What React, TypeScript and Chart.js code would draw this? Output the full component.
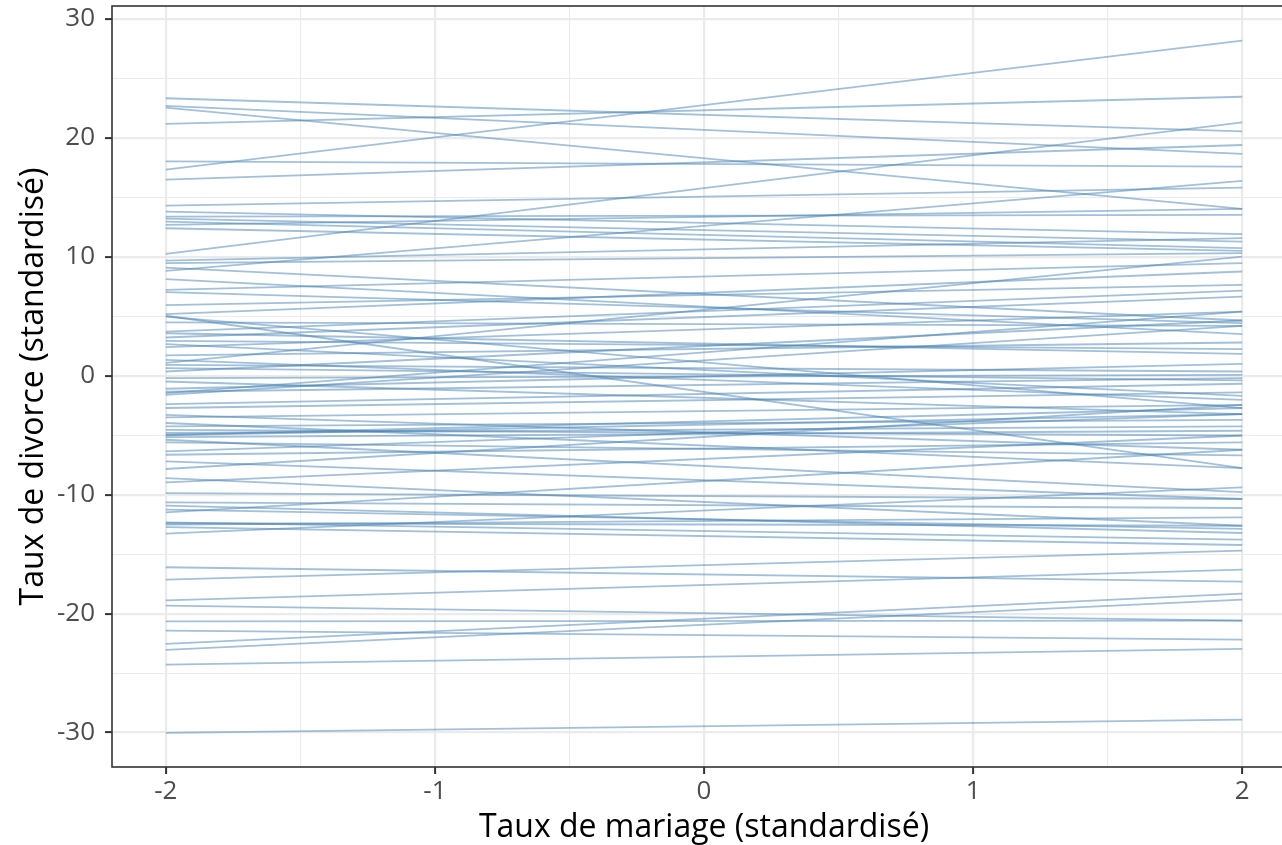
import React, { useEffect, useRef } from 'react';
import { Chart, registerables } from 'chart.js';

Chart.register(...registerables);

// Each simulated regression line is drawn from x = -2 to x = 2
const marriageEnds = [-2, 2];

// Divorce rate (standardised) at marriage rate = -2
const divorceAtLow = [
  23.34, 22.7, 22.56, 21.18, 18.04, 17.34, 16.5,
  14.31, 13.81, 13.39, 13.22, 12.97, 12.69, 12.41, 10.25, 9.69, 9.47, 9.1, 8.82, 8.13, 7.23, 7.03, 5.94, 5.18, 4.98,
  4.5, 3.72, 3.58, 3.22, 2.94, 2.66, 2.41, 1.71, 1.34, 1.09, 0.92, 0.65, 0.36, -0.19, -0.48, -1.09, -1.34, -1.6, -2.38, -2.71,
  -3.28, -3.5, -3.97, -4.26, -4.54, -4.81, -4.96, -5.15, -5.38, -5.6, -6.36, -6.64, -7.2, -7.84, -8.6, -8.97, -9.86,
  -10.65, -10.92, -11.26, -11.49, -12.33, -12.52, -12.72, -13.28,
  -16.1, -17.14, -18.88, -19.33, -20.65, -21.43, -22.55, -23.05, -24.29, -30.03,
  5.05, -1.45, -5.0, -12.4,
];

// Divorce rate (standardised) at marriage rate = 2
const divorceAtHigh = [
  20.56, 18.66, 14.03, 23.47, 17.59, 28.18, 19.41,
  15.82, 11.91, 13.53, 11.29, 10.73, 14.03, 10.5, 21.32, 11.57, 10.31, 4.65, 16.39, 3.5, 9.47, 4.43, 7.65, 8.77, -2.71,
  4.2, 7.17, 1.85, 6.66, 2.24, -1.68, 5.4, 2.8, -2.02, 10.03, 0.36, -0.39, 4.65, 0.08, -3.22, 1.01, -0.19, 4.2, -0.67, -1.4,
  -6.22, -2.44, -7.76, -3.7, -5.02, -4.26, -2.71, -4.62, -9.78, -6.7, -3.22, -5.6, -10.36, -2.44, -12.61, -5.02, -10.36,
  -11.12, -13.22, -12.88, -6.22, -13.78, -11.91, -14.23, -9.39,
  -17.31, -14.71, -16.3, -20.59, -20.59, -22.18, -18.32, -18.82, -22.97, -28.91,
  -7.76, 5.4, -3.22, -12.61,
];

const xMajorTicks = [-2, -1, 0, 1, 2];
const xMinorTicks = [-1.5, -0.5, 0.5, 1.5];
const yMajorTicks = [-30, -20, -10, 0, 10, 20, 30];
const yMinorTicks = [-25, -15, -5, 5, 15, 25];

const LINE_COLOR = 'rgba(70, 130, 180, 0.5)';
const GRID_COLOR = '#EBEBEB';
const INK = '#333333';
const TICK_TEXT = '#4D4D4D';
const FONT = "'Open Sans', 'DejaVu Sans', sans-serif";

const panelBorder = {
  id: 'panelBorder',
  afterDatasetsDraw(chart: any) {
    const { ctx, chartArea } = chart;
    const { left, top, right, bottom } = chartArea;
    ctx.save();
    ctx.strokeStyle = INK;
    ctx.lineWidth = 1.6;
    ctx.strokeRect(left, top, right - left, bottom - top);
    ctx.restore();
  },
};

const isMajorX = (v: number) => xMajorTicks.includes(v);
const isMajorY = (v: number) => yMajorTicks.includes(v);

export default function App() {
  const canvasRef = useRef<HTMLCanvasElement | null>(null);

  useEffect(() => {
    const canvas = canvasRef.current;
    if (!canvas) return;

    const datasets = divorceAtLow.map((start, i) => ({
      data: [
        { x: marriageEnds[0], y: start },
        { x: marriageEnds[1], y: divorceAtHigh[i] },
      ],
      borderColor: LINE_COLOR,
      borderWidth: 1.8,
      pointRadius: 0,
      fill: false,
      tension: 0,
    }));

    const chart = new Chart(canvas, {
      type: 'line',
      data: { datasets },
      plugins: [panelBorder],
      options: {
        animation: false,
        responsive: false,
        devicePixelRatio: 1,
        events: [],
        layout: {
          autoPadding: false,
          padding: { left: 0, top: 6, right: 4, bottom: 0 },
        },
        plugins: {
          legend: { display: false },
          tooltip: { enabled: false },
        },
        scales: {
          x: {
            type: 'linear',
            min: -2.2,
            max: 2.2,
            afterBuildTicks: (scale: any) => {
              scale.ticks = [...xMajorTicks, ...xMinorTicks]
                .sort((a, b) => a - b)
                .map((value) => ({ value }));
            },
            afterFit: (scale: any) => {
              scale.height = 78;
              scale.paddingLeft = 0;
              scale.paddingRight = 0;
            },
            border: { display: false },
            grid: {
              color: GRID_COLOR,
              lineWidth: (ctx: any) => (isMajorX(ctx.tick.value) ? 2.2 : 1.1),
              tickColor: (ctx: any) => (isMajorX(ctx.tick.value) ? INK : 'rgba(0,0,0,0)'),
              tickWidth: (ctx: any) => (isMajorX(ctx.tick.value) ? 2 : 0),
              tickLength: 7,
            },
            ticks: {
              autoSkip: false,
              maxRotation: 0,
              minRotation: 0,
              padding: 2,
              color: TICK_TEXT,
              font: { family: FONT, size: 26 },
              callback: (value: any) => (isMajorX(Number(value)) ? String(value) : ''),
            },
            title: {
              display: true,
              text: 'Taux de mariage (standardisé)',
              color: '#000000',
              font: { family: FONT, size: 32, lineHeight: 1 },
              padding: { top: 0, bottom: 1 },
            },
          },
          y: {
            type: 'linear',
            min: -32.9,
            max: 31.1,
            afterBuildTicks: (scale: any) => {
              scale.ticks = [...yMajorTicks, ...yMinorTicks]
                .sort((a, b) => a - b)
                .map((value) => ({ value }));
            },
            afterFit: (scale: any) => {
              scale.width = 112;
              scale.paddingTop = 0;
              scale.paddingBottom = 0;
            },
            border: { display: false },
            grid: {
              color: GRID_COLOR,
              lineWidth: (ctx: any) => (isMajorY(ctx.tick.value) ? 2.2 : 1.1),
              tickColor: (ctx: any) => (isMajorY(ctx.tick.value) ? INK : 'rgba(0,0,0,0)'),
              tickWidth: (ctx: any) => (isMajorY(ctx.tick.value) ? 2 : 0),
              tickLength: 7,
            },
            ticks: {
              autoSkip: false,
              padding: 10,
              color: TICK_TEXT,
              font: { family: FONT, size: 26 },
              callback: (value: any) => (isMajorY(Number(value)) ? String(value) : ''),
            },
            title: {
              display: true,
              text: 'Taux de divorce (standardisé)',
              color: '#000000',
              font: { family: FONT, size: 32, lineHeight: 1 },
              padding: { top: 18, bottom: 0 },
            },
          },
        },
      },
    } as any);

    return () => chart.destroy();
  }, []);

  return (
    <div
      style={{
        position: 'fixed',
        left: 0,
        top: 0,
        width: 1282,
        height: 845,
        overflow: 'hidden',
        background: '#ffffff',
      }}
    >
      <canvas
        ref={canvasRef}
        width={1300}
        height={845}
        style={{ display: 'block', width: 1300, height: 845 }}
      />
    </div>
  );
}
